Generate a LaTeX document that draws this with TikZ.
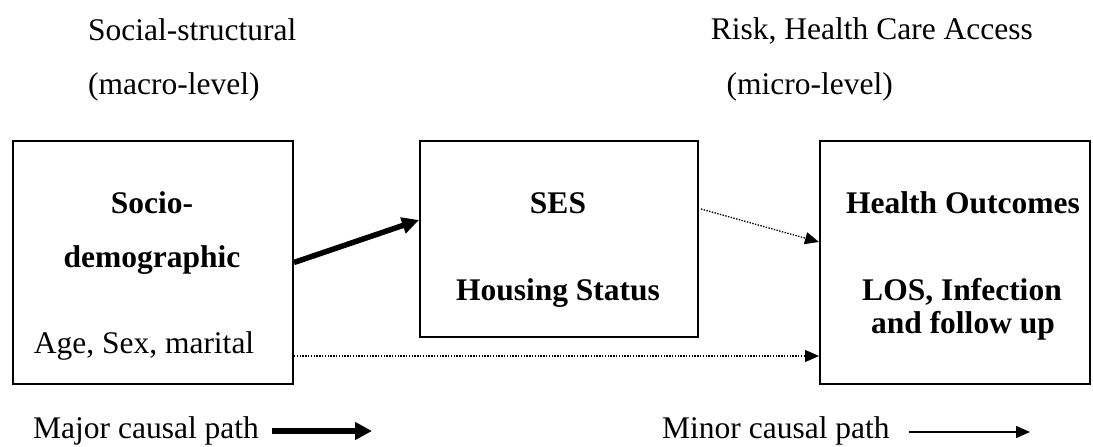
\documentclass[tikz,border=0pt]{standalone}
\usepackage{fontspec}
\setmainfont{Liberation Serif}
\usetikzlibrary{arrows.meta,calc}
\begin{document}
\begin{tikzpicture}[x=1pt,y=-1pt,
  txt/.style={inner sep=0pt,font=\fontsize{31.5}{36}\selectfont},
  btxt/.style={inner sep=0pt,font=\fontsize{31.5}{36}\selectfont\bfseries},
  boxnode/.style={draw,line width=2pt,inner sep=0pt,anchor=north west},
  major/.style={line width=5.5pt,-{Triangle[length=17pt,width=16pt]}},
  minor/.style={line width=1.3pt,dash pattern=on 1.4pt off 1.4pt,-{Triangle[length=14pt,width=12pt]}},
  legminor/.style={line width=1.5pt,-{Triangle[length=14pt,width=12pt]}}]
\useasboundingbox (0,0) rectangle (1093,447);
% top labels
\node[txt,anchor=base west] (ss) at (88,40) {Social-structural};
\node[txt,anchor=base west] (mac) at (88,94) {(macro-level)};
\node[txt,anchor=base east] (risk) at (1033,39) {Risk, Health Care Access};
\node[txt,anchor=base east] (mic) at (893,94) {(micro-level)};
% boxes
\node[boxnode,minimum width=280pt,minimum height=243pt] (b1) at (12,140) {};
\node[boxnode,minimum width=278pt,minimum height=196pt] (b2) at (419,140) {};
\node[boxnode,minimum width=270pt,minimum height=243pt] (b3) at (819,140) {};
% box texts
\node[btxt,anchor=base] (t1a) at (152,213) {Socio-};
\node[btxt,anchor=base] (t1b) at (152,267) {demographic};
\node[txt,anchor=base] (t1c) at (144,353) {Age, Sex, marital};
\node[btxt,anchor=base] (t2a) at (558,213) {SES};
\node[btxt,anchor=base] (t2b) at (558,300) {Housing Status};
\node[btxt,anchor=base] (t3a) at (963,213) {Health Outcomes};
\node[btxt,anchor=base] (t3b) at (962,300) {LOS, Infection};
\node[btxt,anchor=base] (t3c) at (963,333) {and follow up};
% connectors
\draw[major] (b1.east) -- ($(b2.west)+(0,-19)$);
\draw[minor] ($(b2.north east)+(2,69)$) -- ($(b3.north west)+(0,102)$);
\draw[minor] ($(b1.south east)+(0,-29)$) -- ($(b3.south west)+(0,-29)$);
% legend
\node[txt,anchor=base west] (lmaj) at (33,438) {Major causal path};
\node[txt,anchor=base west] (lmin) at (662,438) {Minor causal path};
\coordinate (lmajs) at (272,431);
\coordinate (lmaje) at (372,431);
\coordinate (lmins) at (909,432);
\coordinate (lmine) at (1030,432);
\draw[line width=6pt,-{Triangle[length=17pt,width=17pt]}] (lmajs) -- (lmaje);
\draw[legminor] (lmins) -- (lmine);
\end{tikzpicture}
\end{document}
